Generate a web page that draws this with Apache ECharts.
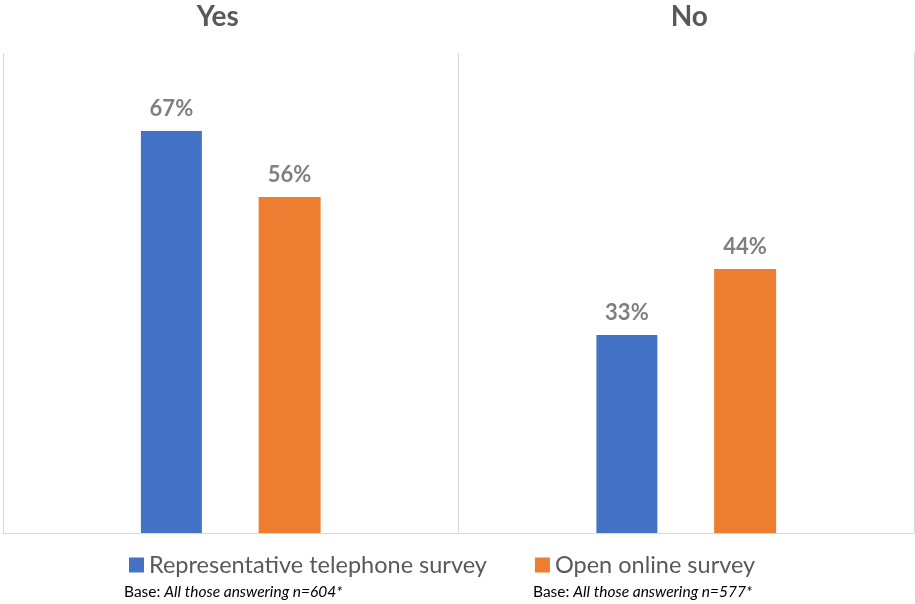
<!DOCTYPE html>
<html><head><meta charset="utf-8">
<script src="https://cdn.jsdelivr.net/npm/echarts@6/dist/echarts.min.js"></script>
<style>html,body{margin:0;padding:0;background:#fff}#c{width:915px;height:604px}</style>
</head><body><div id="c"></div>
<script>
const categories = ['Yes', 'No'];
const telephone = [67, 33];
const online = [56, 44];
const seriesNames = ['Representative telephone survey', 'Open online survey'];
const notes = [['Base: ', 'All those answering n=604*'], ['Base: ', 'All those answering n=577*']];

const chart = echarts.init(document.getElementById('c'));
const ff = 'Lato, "Open Sans", sans-serif';
const lbl = {show: true, position: 'top', distance: 11, formatter: '{c}%', color: '#7f7f7f', fontWeight: 'bold', fontSize: 22, fontFamily: ff};
chart.setOption({
  animation: false,
  grid: {left: 3, right: 1, top: 53, bottom: 71},
  legend: {
    left: 124, top: 548, itemWidth: 15, itemHeight: 15, itemGap: 48, icon: 'rect',
    textStyle: {fontSize: 23.5, color: '#595959', fontFamily: ff},
    data: seriesNames
  },
  xAxis: [{
    type: 'category', data: categories, position: 'top',
    axisLine: {show: false}, axisTick: {show: false},
    splitLine: {show: true, lineStyle: {color: '#d9d9d9', width: 1}},
    axisLabel: {margin: 22, color: '#595959', fontSize: 28, fontWeight: 'bold', fontFamily: ff,
      formatter: v => v === 'Yes' ? '{y|' + v + '}' : '{n|' + v + '}',
      rich: {y: {fontSize: 28, fontWeight: 'bold', color: '#595959', fontFamily: ff, padding: [0, 26, 0, 0]},
             n: {fontSize: 28, fontWeight: 'bold', color: '#595959', fontFamily: ff, padding: [0, 0, 0, 6]}}}
  }, {
    type: 'category', data: categories, position: 'bottom',
    axisLine: {show: true, lineStyle: {color: '#d9d9d9', width: 1}},
    axisTick: {show: false}, axisLabel: {show: false}, splitLine: {show: false}
  }],
  yAxis: {type: 'value', min: 0, max: 80, show: false, splitLine: {show: false}},
  series: [
    {name: seriesNames[0], type: 'bar', data: telephone, barWidth: 61, barGap: '93%', itemStyle: {color: '#4472C4'}, label: lbl},
    {name: seriesNames[1], type: 'bar', data: online, barWidth: 62, itemStyle: {color: '#ED7D31'}, label: lbl}
  ],
  graphic: notes.map((n, i) => ({
    type: 'text', left: i === 0 ? 124 : 533, top: 584,
    style: {text: '{a|' + n[0] + '}{b|' + n[1] + '}', rich: {
      a: {fontSize: 15.5, color: '#7f7f7f', fontFamily: ff},
      b: {fontSize: 15.5, color: '#7f7f7f', fontFamily: ff, fontStyle: 'italic'}}}
  }))
});
</script></body></html>
